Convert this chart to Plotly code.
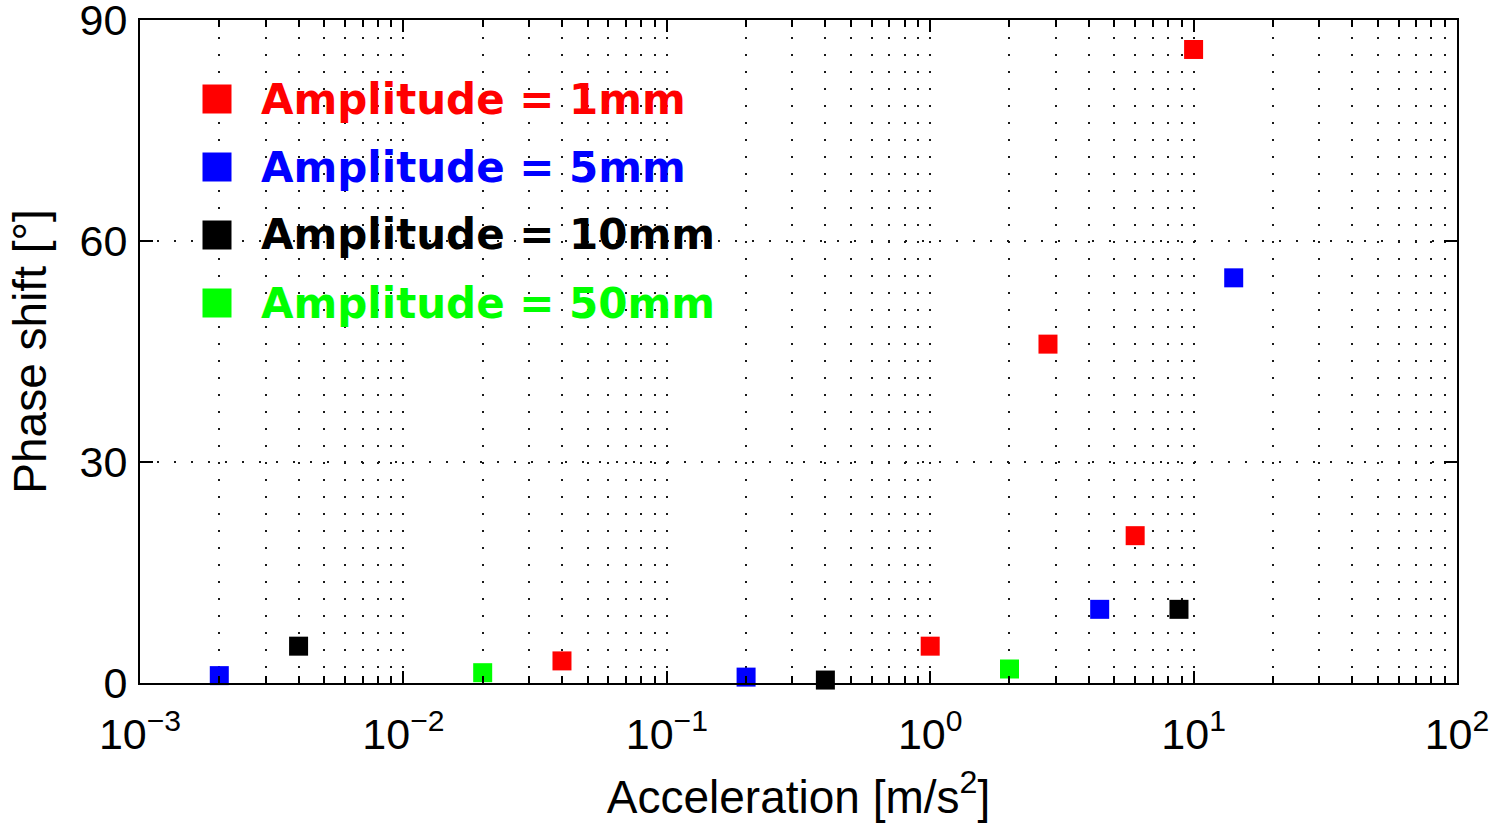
import plotly.graph_objects as go

# Measured phase shift vs. acceleration for four excitation amplitudes
series_names = ["Amplitude = 1mm", "Amplitude = 5mm", "Amplitude = 10mm", "Amplitude = 50mm"]
series_colors = ["#ff0000", "#0000ff", "#000000", "#00ff00"]

accel_1mm = [0.04, 1.0, 2.8, 6.0, 10.0]
phase_1mm = [3.0, 5.0, 46.0, 20.0, 86.0]

accel_5mm = [0.002, 0.2, 4.4, 14.2]
phase_5mm = [1.0, 0.8, 10.0, 55.0]

accel_10mm = [0.004, 0.4, 8.8]
phase_10mm = [5.0, 0.4, 10.0]

accel_50mm = [0.02, 2.0]
phase_50mm = [1.4, 1.9]

x_tick_vals = [1e-3, 1e-2, 1e-1, 1e0, 1e1, 1e2]
x_tick_text = ["10<sup>−3</sup>", "10<sup>−2</sup>", "10<sup>−1</sup>",
               "10<sup>0</sup>", "10<sup>1</sup>", "10<sup>2</sup>"]
y_tick_vals = [0, 30, 60, 90]

series_x = [accel_1mm, accel_5mm, accel_10mm, accel_50mm]
series_y = [phase_1mm, phase_5mm, phase_10mm, phase_50mm]

W, H = 1497, 823
ML, MR, MT, MB = 140, 40, 20, 140

fig = go.Figure()
for name, color, xs, ys in zip(series_names, series_colors, series_x, series_y):
    fig.add_trace(go.Scatter(
        x=xs, y=ys, mode="markers", name=name,
        marker=dict(symbol="square", size=19, color=color, line=dict(width=0)),
        cliponaxis=False, showlegend=False,
    ))

# minor log ticks 2..9 within each decade
minor_vals = [k * 10.0 ** e for e in range(-3, 2) for k in range(2, 10)]

dot_grid = dict(gridcolor="#1a1a1a", gridwidth=2, griddash="2px,15px")
tick_font = dict(family="Liberation Sans, Arial, sans-serif", size=43, color="black")
title_font = dict(family="Liberation Sans, Arial, sans-serif", size=46, color="black")

fig.update_xaxes(
    type="log", range=[-3, 2],
    tickvals=x_tick_vals, ticktext=x_tick_text,
    ticks="inside", ticklen=12, tickwidth=2, tickcolor="black",
    showline=True, linecolor="black", linewidth=2, mirror="ticks",
    showgrid=True, **dot_grid,
    minor=dict(tickvals=minor_vals, ticks="inside", ticklen=7, tickwidth=2,
               tickcolor="black", showgrid=True, **dot_grid),
    tickfont=tick_font, ticklabelstandoff=12, ticklabeloverflow="allow",
    title=dict(text="Acceleration [m/s<sup>2</sup>]", font=title_font, standoff=24),
    zeroline=False, automargin=False,
)
fig.update_yaxes(
    range=[0, 90], tickvals=y_tick_vals,
    ticks="inside", ticklen=13, tickwidth=2, tickcolor="black",
    showline=True, linecolor="black", linewidth=2, mirror="ticks",
    showgrid=True, **dot_grid,
    tickfont=tick_font, ticklabelstandoff=2, ticklabeloverflow="allow",
    title=dict(text="Phase shift [°]", font=title_font, standoff=18),
    zeroline=False, automargin=False,
)

# legend drawn inside the axes: coloured squares with bold coloured labels
plot_w = W - ML - MR
plot_h = H - MT - MB
legend_x_px = 217
legend_text_px = 259
legend_row0_px = 99
legend_row_gap = 68
square_half = 14.5

shapes = []
annotations = []
for i, (name, color) in enumerate(zip(series_names, series_colors)):
    cy = 1 - (legend_row0_px + i * legend_row_gap - MT) / plot_h
    cx = (legend_x_px - ML) / plot_w
    shapes.append(dict(
        type="rect", xref="paper", yref="paper",
        xsizemode="pixel", ysizemode="pixel", xanchor=cx, yanchor=cy,
        x0=-square_half, x1=square_half, y0=-square_half, y1=square_half,
        fillcolor=color, line=dict(width=0), layer="above",
    ))
    annotations.append(dict(
        xref="paper", yref="paper", x=(legend_text_px - ML) / plot_w, y=cy,
        xanchor="left", yanchor="middle", showarrow=False, text=f"<b>{name}</b>",
        font=dict(family="DejaVu Sans, sans-serif", size=42, color=color),
    ))

fig.update_layout(
    width=W, height=H,
    margin=dict(l=ML, r=MR, t=MT, b=MB, pad=0, autoexpand=False),
    paper_bgcolor="white", plot_bgcolor="white",
    shapes=shapes, annotations=annotations,
    showlegend=False,
)

fig.write_html("out.html")
